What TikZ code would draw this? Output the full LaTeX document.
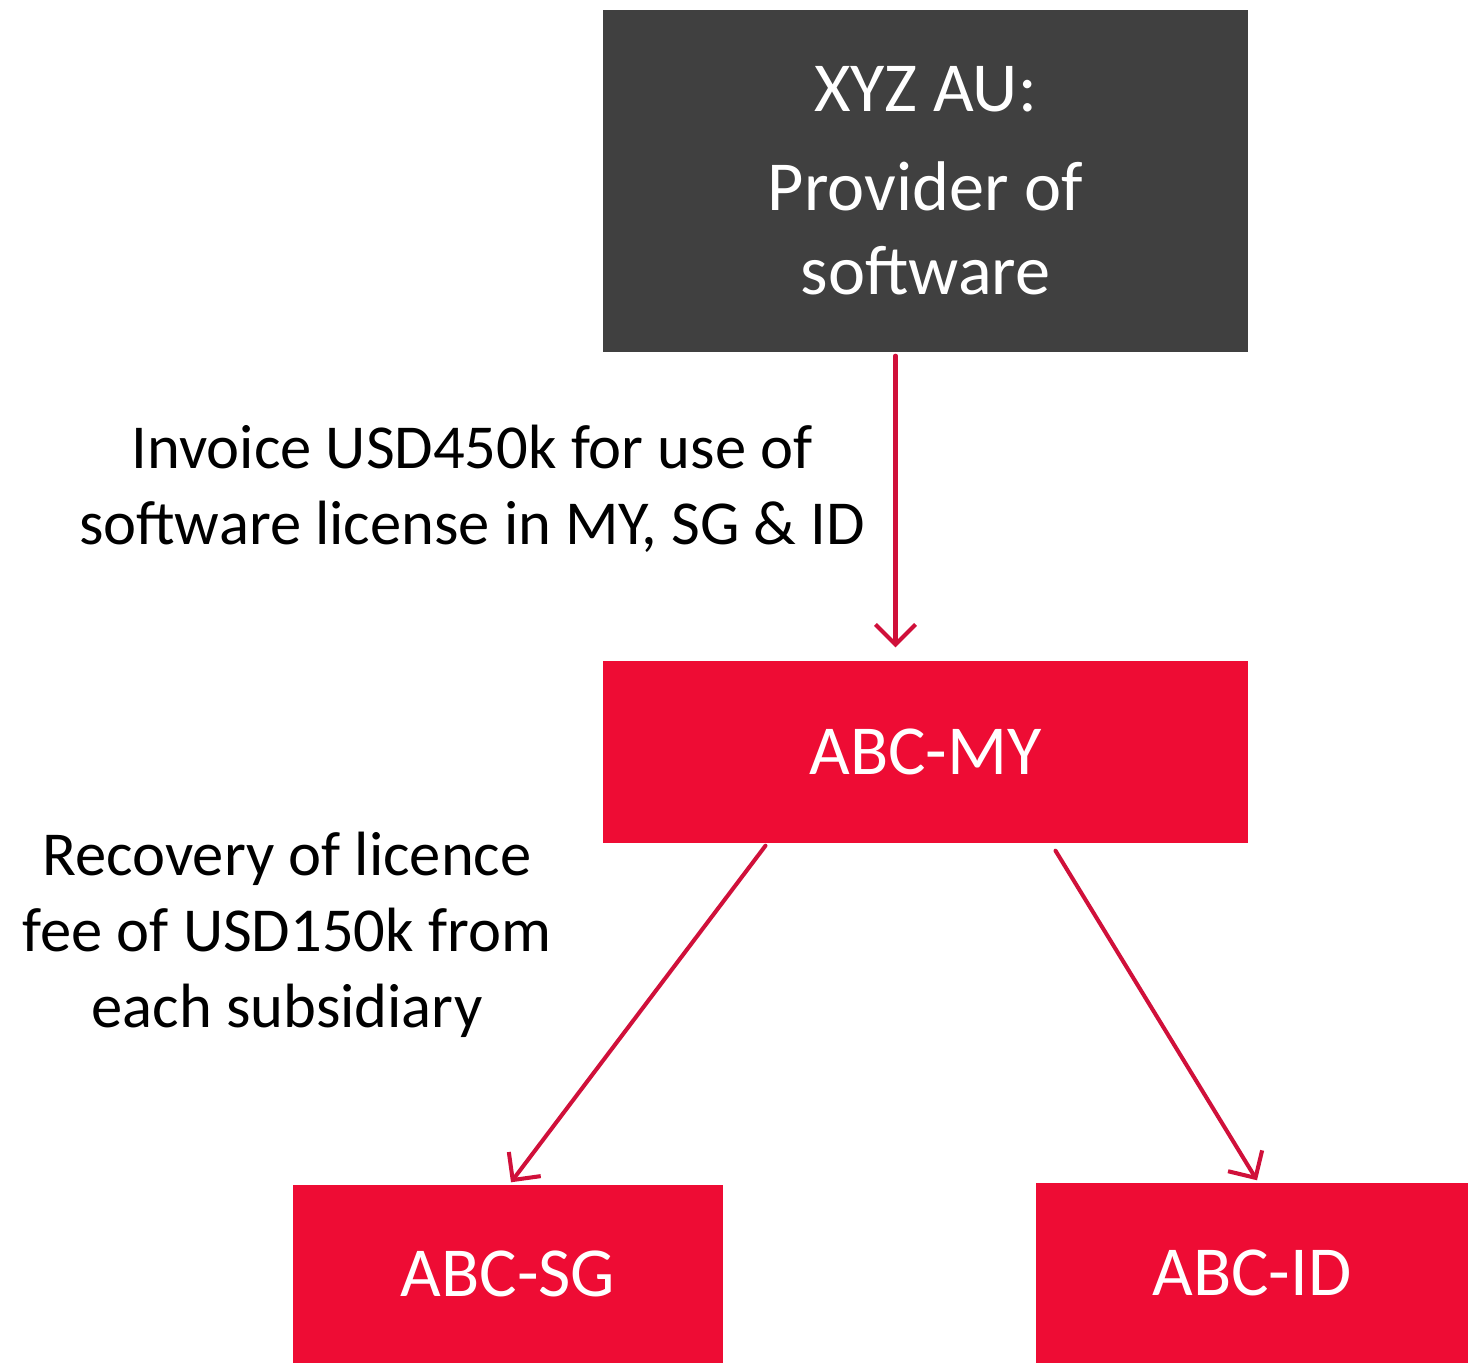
\documentclass[tikz,border=0pt]{standalone}
\usepackage{fontspec}
\setmainfont{Carlito}
\usetikzlibrary{arrows.meta}
\definecolor{boxred}{HTML}{EE0C34}
\definecolor{boxgrey}{HTML}{404040}
\definecolor{linered}{HTML}{D0103A}
\begin{document}
\begin{tikzpicture}[line join=round,line cap=round,
	entity/.style={rectangle,inner sep=0pt,text=white,align=center,font=\fontsize{20}{24}\selectfont},
	flow/.style={draw=linered,line width=1.15pt,-{Straight Barb[length=2mm,width=4mm,line width=1.15pt]}},
	note/.style={align=center,font=\fontsize{17.8}{21.6}\selectfont}]
		\useasboundingbox (0,0) rectangle (14.68,-13.63);
		\node[entity,fill=boxgrey,minimum width=6.45cm,minimum height=3.42cm] (xyz) at (9.255,-1.81) {XYZ AU:\\[4pt] Provider of\\ software};
		\node[entity,fill=boxred,minimum width=6.45cm,minimum height=1.82cm] (my) at (9.255,-7.52) {ABC-MY};
		\node[entity,fill=boxred,minimum width=4.30cm,minimum height=1.78cm] (sg) at (5.08,-12.74) {ABC-SG};
		\node[entity,fill=boxred,minimum width=4.32cm,minimum height=1.80cm] (id) at (12.52,-12.73) {ABC-ID};
		\node[note] (inv) at (4.72,-4.89) {Invoice USD450k for use of\\ software license in MY, SG \& ID};
		\node[note] (rec) at (2.87,-9.35) {Recovery of licence\\ fee of USD150k from\\ each subsidiary};
		\draw[flow] ([xshift=-0.3cm,yshift=-0.03cm]xyz.south) -- ([xshift=-0.3cm,yshift=0.13cm]my.north);
		\draw[flow] ([xshift=-1.6cm,yshift=-0.02cm]my.south) -- ([xshift=0.03cm,yshift=0.02cm]sg.north);
		\draw[flow] ([xshift=1.3cm,yshift=-0.07cm]my.south) -- ([xshift=0.05cm,yshift=0.02cm]id.north);
\end{tikzpicture}
\end{document}
